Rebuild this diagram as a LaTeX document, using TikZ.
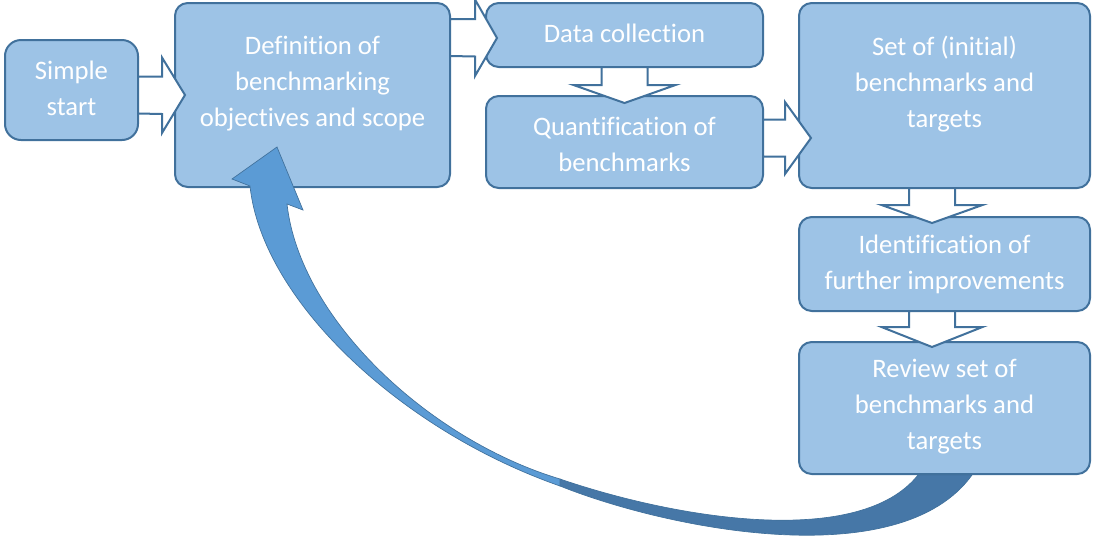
\documentclass[tikz,border=0pt]{standalone}
\usepackage{fontspec}
\setmainfont{Carlito}[Ligatures=NoCommon]
\usetikzlibrary{calc}
\definecolor{boxfill}{HTML}{9DC3E6}
\definecolor{boxline}{HTML}{41719C}
\definecolor{loopfront}{HTML}{5B9BD5}
\definecolor{loopback}{HTML}{4677A7}
\tikzset{every picture/.style={line width=0.75pt}}

\begin{document}
\begin{tikzpicture}[x=0.75pt,y=0.75pt,yscale=-1,xscale=1,
	stage/.style={draw=boxline, fill=boxfill, line width=1.5pt, rounded corners=9.5pt, inner sep=0pt, outer sep=0pt},
	stagetext/.style={text=white, align=center, font=\fontsize{20}{27}\selectfont},
	blockarrow/.style={draw=boxline, fill=white, line width=1.5pt, line join=miter},
	returnband/.style={draw=boxline, line width=0.5pt}]
	\useasboundingbox (0,0) rectangle (1093,540);

	%Rounded Rect [id:simple]
	\node [stage, rounded corners=12pt, minimum width=99.75pt, minimum height=75pt] (simple) at (71.5,90) {};
	%Rounded Rect [id:defn]
	\node [stage, minimum width=206.25pt, minimum height=138pt] (defn) at (312.5,95) {};
	%Rounded Rect [id:data]
	\node [stage, minimum width=207.75pt, minimum height=48pt] (data) at (624.5,35) {};
	%Rounded Rect [id:quant]
	\node [stage, minimum width=207.75pt, minimum height=69pt] (quant) at (624.5,142) {};
	%Rounded Rect [id:set]
	\node [stage, minimum width=218.25pt, minimum height=138.75pt] (set) at (944.5,95.5) {};
	%Rounded Rect [id:ident]
	\node [stage, minimum width=218.25pt, minimum height=70.5pt] (ident) at (944.5,264) {};
	%Rounded Rect [id:review]
	\node [stage, minimum width=218.25pt, minimum height=99pt] (review) at (944.5,408) {};

	% Text Node
	\node [stagetext] (simpletxt) at (71.5,88.5) {Simple\\start};
	% Text Node
	\node [stagetext] (defntxt) at (312.5,84) {Definition of\\benchmarking\\objectives and scope};
	% Text Node
	\node [stagetext] (datatxt) at (624.5,33) {Data collection};
	% Text Node
	\node [stagetext] (quanttxt) at (624.5,144.5) {Quantification of\\benchmarks};
	% Text Node
	\node [stagetext] (settxt) at (944.5,84) {Set of (initial)\\benchmarks and\\targets};
	% Text Node
	\node [stagetext] (identtxt) at (944.5,264) {Identification of\\further improvements};
	% Text Node
	\node [stagetext] (reviewtxt) at (944.5,407) {Review set of\\benchmarks and\\targets};

	%Right Arrow [simple -> defn]
	\draw [blockarrow] ($(simple.east |- defn.west)+(0,-18.5)$) -- ++(24,0) -- ++(0,-19) -- ($(defn.west)+(10,0)$) -- ++(-23,38) -- ++(0,-19) -- ($(simple.east |- defn.west)+(0,18.5)$) -- cycle ;
	%Right Arrow [defn -> data]
	\draw [blockarrow] ($(defn.east |- data.west)+(0,-16)$) -- ++(25,0) -- ++(0,-19.5) -- ($(data.west)+(11,3)$) -- ++(-22,38) -- ++(0,-19.5) -- ($(defn.east |- data.west)+(0,21)$) -- cycle ;
	%Down Arrow [data -> quant]
	\draw [blockarrow] ($(data.south)+(-23,0)$) -- ++(0,18) -- ++(-28,0) -- ($(quant.north)+(0,7)$) -- ++(51,-18) -- ++(-28,0) -- ($(data.south)+(23,0)$) -- cycle ;
	%Right Arrow [quant -> set]
	\draw [blockarrow] ($(quant.east)+(0,-22.5)$) -- ++(22,0) -- ++(0,-17.5) -- ($(quant.east -| set.west)+(12,-4)$) -- ++(-26,36) -- ++(0,-17.5) -- ($(quant.east)+(0,14.5)$) -- cycle ;
	%Down Arrow [set -> ident]
	\draw [blockarrow] ($(set.south)+(-35.5,0)$) -- ++(0,17) -- ++(-27.5,0) -- ($(ident.north)+(-12.5,6)$) -- ++(50.5,-18) -- ++(-27.5,0) -- ($(set.south)+(10.5,0)$) -- cycle ;
	%Down Arrow [ident -> review]
	\draw [blockarrow] ($(ident.south)+(-35.5,0)$) -- ++(0,16) -- ++(-27.5,0) -- ($(review.north)+(-12.5,5)$) -- ++(50.5,-20) -- ++(-27.5,0) -- ($(ident.south)+(10.5,0)$) -- cycle ;

	%Curved Arrow [review -> defn]
	\coordinate (backtip) at ($(defn.south west)+(102,-40)$);
	\coordinate (backtail) at ($(review.south west)+(119,1)$);
	\draw [returnband, fill=loopback] (560,479) .. controls (680,520) and (860,548) .. (backtail) -- ($(backtail)+(54,0)$) .. controls (900,575) and (670,530) .. (560,486) -- cycle ;
	\draw [returnband, fill=loopfront] (backtip) -- (303,210) -- (287,204) .. controls (300,320) and (430,440) .. (560,479) -- (560,486) .. controls (400,430) and (262,300) .. (250,186) -- (232,179) -- cycle ;

\end{tikzpicture}
\end{document}
